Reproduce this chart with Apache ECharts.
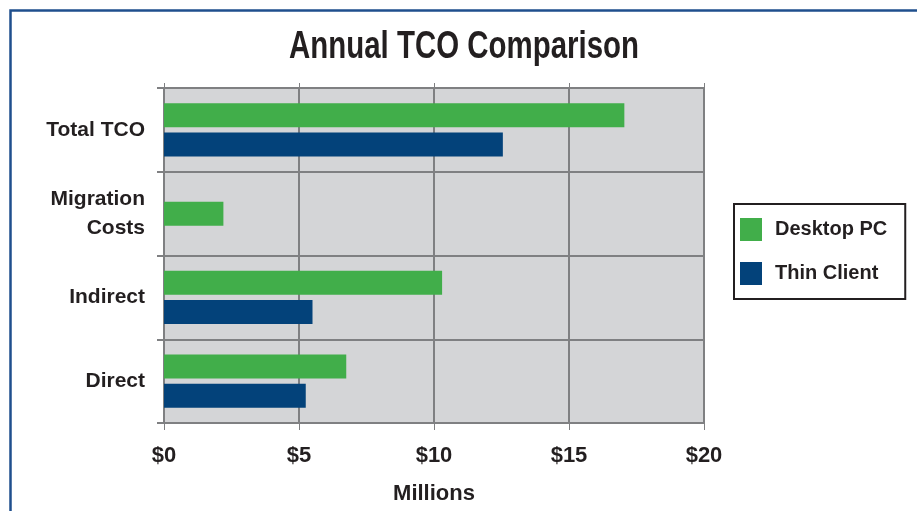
<!DOCTYPE html>
<html><head><meta charset="utf-8">
<script src="https://cdn.jsdelivr.net/npm/echarts@6/dist/echarts.min.js"></script>
<style>html,body{margin:0;padding:0;background:#fff}#c{width:917px;height:511px}</style>
</head><body><div id="c"></div>
<script>
const title = 'Annual TCO Comparison';
const categories = ['Direct', 'Indirect', 'Migration\nCosts', 'Total TCO'];
const desktopPC = [6.75, 10.3, null, 17.05];
const thinClient = [5.25, 5.5, null, 12.55];
const migrationDesktop = [null, null, 2.2, null];
const xTicks = [0, 5, 10, 15, 20];
const xAxisName = 'Millions';
const seriesNames = ['Desktop PC', 'Thin Client'];

const FONT = '"Liberation Sans", Arial, sans-serif';
const GREEN = '#41ae4a', BLUE = '#03427a', LINE = '#7f8082', TXT = '#231f20';
const chart = echarts.init(document.getElementById('c'), null, {renderer: 'canvas'});
chart.setOption({
  animation: false,
  backgroundColor: '#fff',
  graphic: [
    {type: 'rect', shape: {x: 10.5, y: 10.5, width: 1000, height: 1000},
      style: {fill: 'none', stroke: '#1f4f8d', lineWidth: 2.5}, silent: true},
    {type: 'text', x: 464, y: 47, scaleX: 0.755, scaleY: 1, silent: true,
      style: {text: title, fontFamily: FONT, fontWeight: 'bold', fontSize: 39, fill: TXT,
        align: 'center', verticalAlign: 'middle'}}
  ],
  legend: {
    data: seriesNames, orient: 'vertical', left: 734, top: 204,
    padding: [14, 18, 14, 6], itemGap: 21, itemWidth: 22, itemHeight: 23,
    borderColor: TXT, borderWidth: 2, icon: 'rect',
    textStyle: {fontFamily: FONT, fontWeight: 'bold', fontSize: 20, color: TXT, padding: [0, 0, 0, 8]}
  },
  grid: {left: 164, right: 213, top: 88, bottom: 88, backgroundColor: '#d4d5d7', show: true, borderWidth: 0},
  xAxis: [{
    type: 'value', min: 0, max: 20, interval: 5,
    axisLine: {show: false},
    axisTick: {show: true, length: 7, lineStyle: {color: LINE, width: 1}},
    splitLine: {show: true, lineStyle: {color: LINE, width: 2}},
    axisLabel: {fontFamily: FONT, fontWeight: 'bold', fontSize: 22, color: TXT, margin: 22,
      formatter: v => xTicks.includes(v) ? '$' + v : ''},
    name: xAxisName, nameLocation: 'middle', nameGap: 60,
    nameTextStyle: {fontFamily: FONT, fontWeight: 'bold', fontSize: 22, color: TXT}
  }, {
    type: 'value', position: 'top', min: 0, max: 20, interval: 5,
    axisLine: {show: false}, splitLine: {show: false}, axisLabel: {show: false},
    axisTick: {show: true, length: 5, lineStyle: {color: LINE, width: 1}}
  }],
  yAxis: [{
    type: 'category', data: categories,
    axisLine: {show: false},
    axisTick: {show: true, length: 7, lineStyle: {color: LINE, width: 2}},
    splitLine: {show: true, lineStyle: {color: LINE, width: 2}},
    axisLabel: {fontFamily: FONT, fontWeight: 'bold', fontSize: 21, color: TXT, margin: 19, lineHeight: 29, align: 'right'}
  }, {
    type: 'category', data: categories, position: 'right',
    axisLine: {show: false}, axisLabel: {show: false}, splitLine: {show: false},
    axisTick: {show: true, length: 6, lineStyle: {color: LINE, width: 2}}
  }],
  series: [
    {name: seriesNames[0], type: 'bar', data: desktopPC, barWidth: 24, barGap: '22%', itemStyle: {color: GREEN}},
    {name: seriesNames[1], type: 'bar', data: thinClient, barWidth: 24, barGap: '22%', itemStyle: {color: BLUE}},
    {name: seriesNames[0], type: 'bar', data: migrationDesktop, yAxisIndex: 1, barWidth: 24, itemStyle: {color: GREEN}}
  ]
});
</script></body></html>
